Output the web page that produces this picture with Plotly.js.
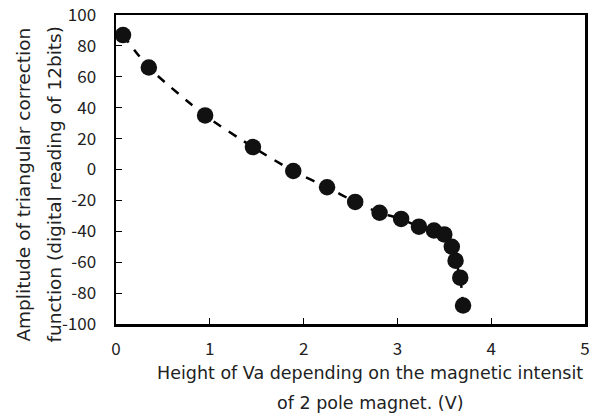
<!DOCTYPE html>
<html><head><meta charset="utf-8">
<script src="https://cdn.plot.ly/plotly-3.0.1.min.js"></script>
<style>html,body{margin:0;padding:0;background:#fff}</style>
</head><body>
<div id="chart" style="width:590px;height:418px"></div>
<script>
const voltage = [0.075, 0.35, 0.95, 1.46, 1.89, 2.25, 2.55, 2.81, 3.04, 3.23, 3.39, 3.50, 3.58, 3.62, 3.67, 3.70];
const amplitude = [87, 66, 35, 14.5, -1, -11.5, -21, -28, -32, -37, -39.5, -42, -50, -59, -70, -88];
const xTicks = [0, 1, 2, 3, 4, 5];
const yTicks = [-100, -80, -60, -40, -20, 0, 20, 40, 60, 80, 100];
const xTitle = ["Height of Va depending on the magnetic intensit", "of 2 pole magnet. (V)"];
const yTitle = ["Amplitude of triangular correction", "function (digital reading of 12bits)"];

const titleFont = "DejaVu Sans, sans-serif";
const tickFont = "Noto Sans CJK JP, Noto Sans, sans-serif";
const trace = {
  x: voltage, y: amplitude, mode: "lines+markers", type: "scatter",
  line: {color: "#000", width: 2.5, dash: "dash", shape: "spline", smoothing: 0.6},
  marker: {color: "#111", size: 16.5},
  cliponaxis: false
};
const axisCommon = {
  ticks: "inside", ticklen: 6, tickwidth: 1, tickcolor: "#000",
  showline: true, linecolor: "#000", linewidth: 2.5, mirror: true,
  showgrid: false, zeroline: false,
  tickfont: {family: tickFont, size: 17, color: "#222"}
};
const layout = {
  width: 590, height: 418,
  margin: {l: 116, r: 5, t: 15, b: 94},
  paper_bgcolor: "#fff", plot_bgcolor: "#fff",
  showlegend: false,
  font: {family: titleFont, size: 17.5, color: "#222"},
  xaxis: Object.assign({range: [0, 5], tickvals: xTicks, ticktext: xTicks.map(String), ticklabelstandoff: 8}, axisCommon),
  yaxis: Object.assign({range: [-100, 100], tickvals: yTicks, ticktext: yTicks.map(String), ticklabelstandoff: 14}, axisCommon),
  annotations: [
    {text: xTitle[0], xref: "paper", yref: "paper", x: 0.542, y: -0.158, xanchor: "center", yanchor: "middle", showarrow: false, font: {family: titleFont, size: 17.5, color: "#222"}},
    {text: xTitle[1], xref: "paper", yref: "paper", x: 0.542, y: -0.255, xanchor: "center", yanchor: "middle", showarrow: false, font: {family: titleFont, size: 17.5, color: "#222"}},
    {text: yTitle[0], xref: "paper", yref: "paper", x: -0.197, y: 0.45, xanchor: "center", yanchor: "middle", textangle: -90, showarrow: false, font: {family: titleFont, size: 18.5, color: "#222"}},
    {text: yTitle[1], xref: "paper", yref: "paper", x: -0.131, y: 0.45, xanchor: "center", yanchor: "middle", textangle: -90, showarrow: false, font: {family: titleFont, size: 18.5, color: "#222"}}
  ]
};
Plotly.newPlot("chart", [trace], layout, {displayModeBar: false, staticPlot: true});
</script>
</body></html>
